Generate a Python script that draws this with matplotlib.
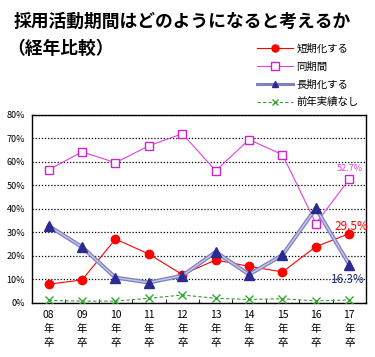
import matplotlib.pyplot as plt
from matplotlib.lines import Line2D
from matplotlib.ticker import FixedLocator, PercentFormatter

plt.rcParams['font.family'] = ['Noto Sans CJK JP', 'DejaVu Sans']

# data
years = ['08', '09', '10', '11', '12', '13', '14', '15', '16', '17']
short = [8.0, 9.8, 27.2, 20.8, 12.1, 18.3, 15.6, 13.2, 24.0, 29.5]
same = [56.7, 64.3, 59.7, 66.9, 72.0, 56.3, 69.5, 63.1, 33.8, 52.7]
longer = [32.8, 23.8, 10.8, 8.7, 11.6, 21.7, 12.1, 20.4, 40.3, 16.3]
none_prev = [1.1, 0.8, 0.8, 2.0, 3.4, 2.0, 1.5, 1.8, 0.9, 1.3]
labels = ['短期化する', '同期間', '長期化する', '前年実績なし']

fig = plt.figure(figsize=(3.75, 3.57), dpi=100)
ax = fig.add_axes([0.0853, 0.1513, 0.8907, 0.5267])
x = list(range(len(years)))

l1, = ax.plot(x, short, color='#ff0000', lw=0.8, marker='o', ms=6,
              mfc='#ff0000', mec='#ff0000', zorder=5)
l2, = ax.plot(x, same, color='#e040e0', lw=0.8, marker='s', ms=6,
              mfc='white', mec='#d020d0', mew=1.0, zorder=4)
# double-line look: wide lavender underneath, pale core on top
ax.plot(x, longer, color='#8080c0', lw=2.9, zorder=6)
l3, = ax.plot(x, longer, color='#c8c8ec', lw=1.0, marker='^', ms=7,
              mfc='#2a2a90', mec='#2a2a90', zorder=7)
l4, = ax.plot(x, none_prev, color='#3a9a3a', lw=0.8, ls=(0, (3, 2)), marker='x',
              ms=5.5, mec='#33aa33', zorder=3)

ax.set_xlim(-0.5, len(years) - 0.5)
ax.set_ylim(0, 80)
ax.yaxis.set_major_locator(FixedLocator(range(0, 81, 10)))
ax.yaxis.set_major_formatter(PercentFormatter(decimals=0))
ax.grid(axis='y', color='black', ls=(0, (1, 1.5)), lw=0.9)
ax.tick_params(axis='y', length=0, labelsize=6.5, pad=5)
ax.set_xticks(x)
ax.set_xticklabels([y + '\n年\n卒' for y in years], fontsize=7.5, linespacing=1.5)
ax.tick_params(axis='x', length=0, pad=5)
ax.set_xticks([i + 0.5 for i in x[:-1]], minor=True)
ax.tick_params(axis='x', which='minor', length=3, direction='in')
for s in ax.spines.values():
    s.set_linewidth(1.0)

ax.text(9, 55.5, '52.7%', color='#e040e0', fontsize=6.5, ha='center', va='bottom')
ax.text(9.05, 32.7, '29.5%', color='#ff0000', fontsize=8.5, ha='center', va='center')
ax.text(8.95, 10.0, '16.3%', color='#203070', fontsize=8.5, ha='center', va='center')

fig.text(0.035, 0.94, '採用活動期間はどのようになると考えるか', fontsize=12.8,
         fontweight='bold', va='center')
fig.text(0.02, 0.862, '（経年比較）', fontsize=12.8, fontweight='bold', va='center')

# legend handle for the doubled blue line
h3 = Line2D([], [], color='#8080c0', lw=2.2, marker='^', ms=5,
            mfc='#2a2a90', mec='#2a2a90')
fig.legend([l1, l2, h3, l4], labels, loc='upper left', bbox_to_anchor=(0.675, 0.89),
           frameon=False, fontsize=7.5, handlelength=3.4, handletextpad=0.35,
           labelspacing=0.75, borderaxespad=0, markerscale=0.85)

fig.savefig('out.png', dpi=100)
